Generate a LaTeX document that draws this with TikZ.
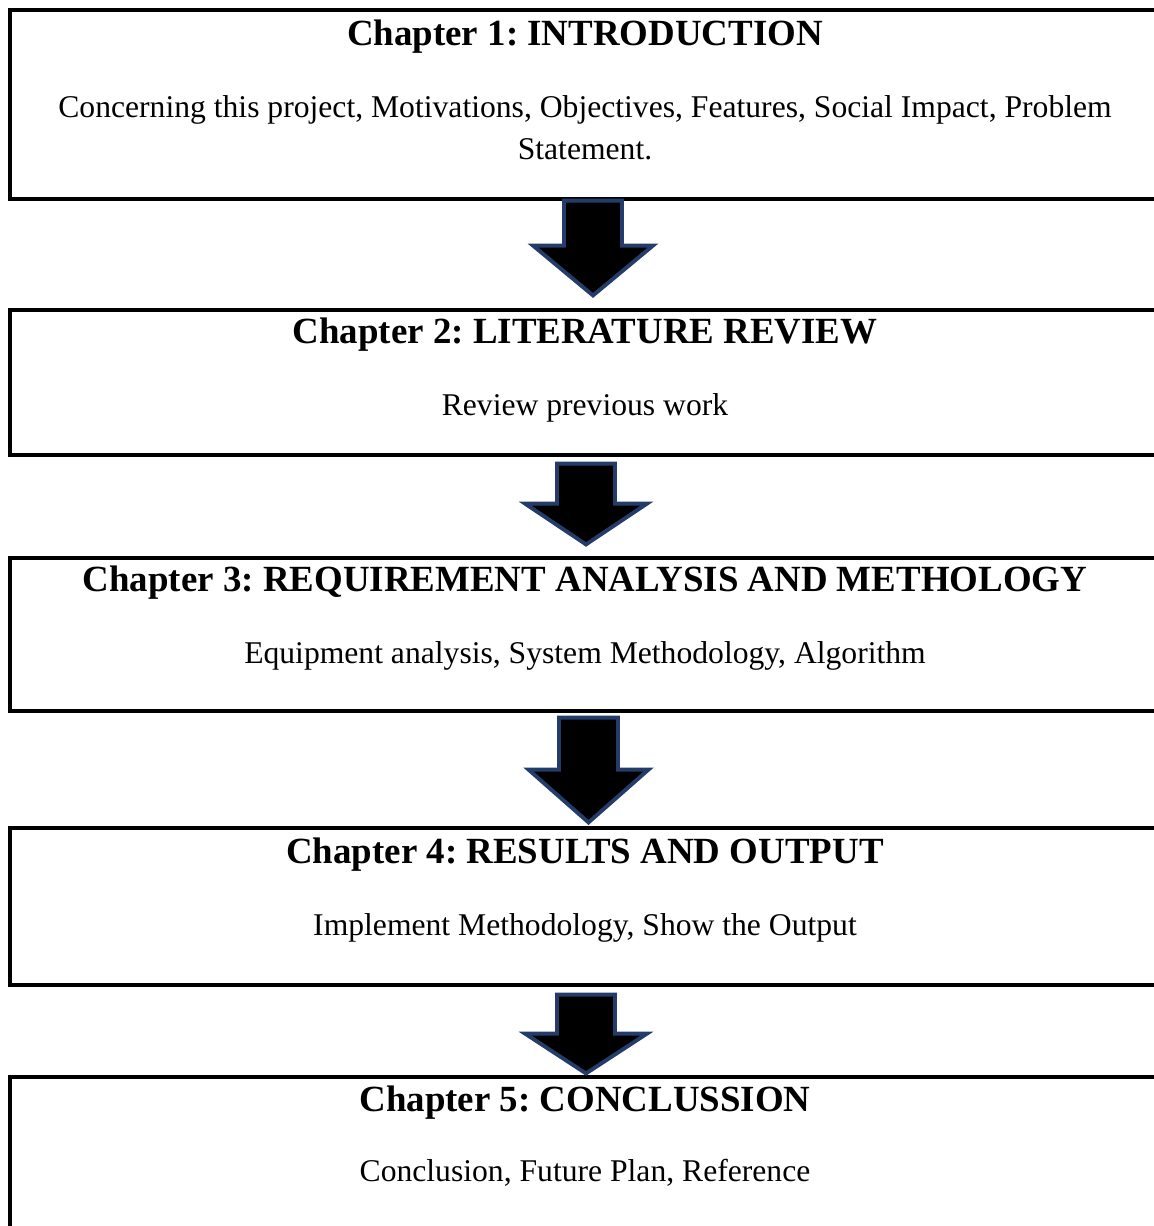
\documentclass[tikz,border=0pt]{standalone}
\usepackage{fontspec}
\setmainfont{Liberation Serif}
\frenchspacing
\usetikzlibrary{positioning,calc}
\tikzset{
    box color/.style={black},
    arrow color/.style={draw={rgb,255:red,35;green,60;blue,105}},
    chapbox/.style={box color,draw,line width=.9pt,rectangle,inner sep=0pt,minimum width=11.5cm},
    chaptitle/.style={anchor=base,font=\fontsize{10.5}{12.6}\selectfont\bfseries},
    chaptext/.style={anchor=base,align=center,font=\fontsize{9}{11.95}\selectfont},
    blockarrow/.style={arrow color,fill=black,line width=1.1pt,line join=miter},
}

\begin{document}
\begin{tikzpicture}
        \clip (0,0) rectangle (11.54,-12.26);

        \node[chapbox,minimum height=1.89cm] (c1) at (5.85,-1.045) {};
        \node[chapbox,minimum height=1.45cm] (c2) at (5.85,-3.825) {};
        \node[chapbox,minimum height=1.53cm] (c3) at (5.85,-6.345) {};
        \node[chapbox,minimum height=1.57cm] (c4) at (5.85,-9.065) {};
        \node[chapbox,minimum height=1.63cm] (c5) at (5.85,-11.585) {};

        \node[chaptitle] (t1) at ($(c1.north)+(0,-.37)$) {Chapter 1: INTRODUCTION};
        \node[chaptext,anchor=north] (b1) at ($(c1.north)+(0,-.75)$)
            {Concerning this project, Motivations, Objectives, Features, Social Impact, Problem\\ Statement.};
        \node[chaptitle] (t2) at ($(c2.north)+(0,-.355)$) {Chapter 2: LITERATURE REVIEW};
        \node[chaptext] (b2) at ($(c2.north)+(0,-1.07)$) {Review previous work};
        \node[chaptitle] (t3) at ($(c3.north)+(0,-.355)$) {Chapter 3: REQUIREMENT ANALYSIS AND METHOLOGY};
        \node[chaptext] (b3) at ($(c3.north)+(0,-1.07)$) {Equipment analysis, System Methodology, Algorithm};
        \node[chaptitle] (t4) at ($(c4.north)+(0,-.37)$) {Chapter 4: RESULTS AND OUTPUT};
        \node[chaptext] (b4) at ($(c4.north)+(0,-1.09)$) {Implement Methodology, Show the Output};
        \node[chaptitle] (t5) at ($(c5.north)+(0,-.365)$) {Chapter 5: CONCLUSSION};
        \node[chaptext] (b5) at ($(c5.north)+(0,-1.06)$) {Conclusion, Future Plan, Reference};

        % block arrows between the chapters
        \coordinate (a1) at ($(c1.south)+(.08,0)$);
        \coordinate (p1) at ($(c2.north)+(.08,.13)$);
        \draw[blockarrow] ($(a1)+(-.29,0)$) -- ($(a1)+(-.29,-.45)$) -- ($(a1)+(-.60,-.45)$) -- (p1)
            -- ($(a1)+(.60,-.45)$) -- ($(a1)+(.29,-.45)$) -- ($(a1)+(.29,0)$) -- cycle;
        \coordinate (a2) at ($(c2.south)+(.01,-.07)$);
        \coordinate (p2) at ($(c3.north)+(.01,.12)$);
        \draw[blockarrow] ($(a2)+(-.29,0)$) -- ($(a2)+(-.29,-.40)$) -- ($(a2)+(-.61,-.40)$) -- (p2)
            -- ($(a2)+(.61,-.40)$) -- ($(a2)+(.29,-.40)$) -- ($(a2)+(.29,0)$) -- cycle;
        \coordinate (a3) at ($(c3.south)+(.035,-.05)$);
        \coordinate (p3) at ($(c4.north)+(.035,.04)$);
        \draw[blockarrow] ($(a3)+(-.295,0)$) -- ($(a3)+(-.295,-.52)$) -- ($(a3)+(-.60,-.52)$) -- (p3)
            -- ($(a3)+(.60,-.52)$) -- ($(a3)+(.295,-.52)$) -- ($(a3)+(.295,0)$) -- cycle;
        \coordinate (a4) at ($(c4.south)+(.01,-.08)$);
        \coordinate (p4) at ($(c5.north)+(.01,.02)$);
        \draw[blockarrow] ($(a4)+(-.29,0)$) -- ($(a4)+(-.29,-.39)$) -- ($(a4)+(-.61,-.39)$) -- (p4)
            -- ($(a4)+(.61,-.39)$) -- ($(a4)+(.29,-.39)$) -- ($(a4)+(.29,0)$) -- cycle;
\end{tikzpicture}
\end{document}
